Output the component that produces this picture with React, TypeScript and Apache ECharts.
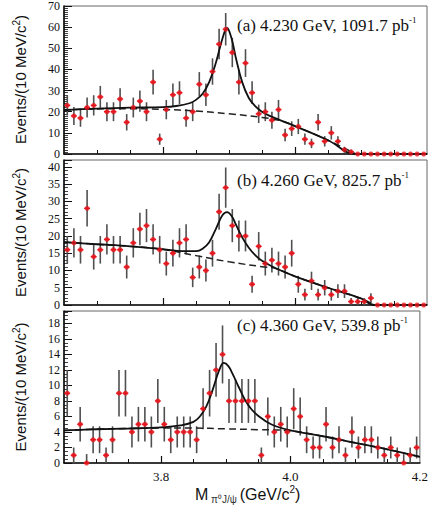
import React, { useEffect, useRef } from "react";
import * as echarts from "echarts";

// Histogram binning (10 MeV bins from 3.65 to 4.20 GeV/c^2)
const BIN_START = 3.65;
const BIN_WIDTH = 0.01;

const COUNTS_A = [23, 18, 17, 22, 23, 27, 20, 20, 26, 15, 22, 25, 20, 34, 7, 21, 28, 29, 17, 20, 33, 28, 39, 52, 59, 48, 34, 43, 29, 19, 20, 16, 21, 9, 12, 13, 7, 5, 15, 6, 10, 6, 2, 1, 0, 0, 0, 0, 0, 0, 0, 0, 0, 0, 0];
const COUNTS_B = [16, 18, 16, 28, 14, 16, 19, 16, 16, 11, 18, 22, 23, 19, 16, 12, 15, 18, 19, 8, 11, 10, 15, 27, 34, 23, 20, 20, 6, 17, 12, 13, 12, 11, 15, 6, 3, 7, 3, 5, 3, 4, 4, 1, 1, 1, 2, 0, 0, 0, 0, 0, 0, 0, 0];
const COUNTS_C = [9, 1, 5, 0, 3, 3, 1, 3, 9, 9, 4, 5, 5, 4, 8, 5, 3, 4, 4, 4, 3, 7, 9, 12, 14, 8, 8, 8, 8, 8, 1, 6, 4, 5, 4, 7, 6, 3, 2, 2, 5, 2, 3, 1, 4, 2, 3, 3, 2, 1, 2, 1, 0, 1, 2];
const ZERO_UPPER_ERR = [0, 0, 1.15];

// Fit curves (total = solid, background = dashed)
const FIT_A: number[][] = [[3.65, 20.8], [3.70, 21.5], [3.75, 21.9], [3.80, 22.2], [3.82, 22.7], [3.84, 24], [3.85, 25.6], [3.86, 28.5], [3.87, 34], [3.88, 43], [3.89, 54.5], [3.897, 59.6], [3.904, 54.5], [3.91, 46], [3.92, 34], [3.93, 26.5], [3.94, 22.5], [3.95, 20], [3.96, 18.3], [3.98, 15.7], [4.0, 13.2], [4.05, 6.5], [4.092, 0], [4.2, 0]];
const BKG_A: number[][] = [[3.65, 20.8], [3.70, 21.3], [3.75, 21.4], [3.80, 21.1], [3.85, 20.3], [3.90, 19.0], [3.95, 17.3], [3.98, 15.6], [4.0, 13.2], [4.05, 6.5], [4.092, 0]];
const FIT_B: number[][] = [[3.65, 18.2], [3.70, 17.6], [3.75, 17], [3.80, 16.2], [3.83, 15.6], [3.85, 15.6], [3.86, 16.3], [3.87, 18.2], [3.88, 22], [3.89, 26], [3.897, 26.9], [3.904, 25.8], [3.91, 23.5], [3.92, 19.6], [3.93, 16.6], [3.94, 14.4], [3.95, 12.8], [3.97, 10.7], [4.0, 8.3], [4.05, 5], [4.1, 1.9], [4.12, 0], [4.2, 0]];
const BKG_B: number[][] = [[3.65, 18.2], [3.70, 17.6], [3.75, 17], [3.80, 16.1], [3.85, 14.3], [3.90, 12.5], [3.95, 11.1], [3.97, 10.6], [4.0, 8.3], [4.05, 5], [4.1, 1.9], [4.12, 0]];
const FIT_C: number[][] = [[3.65, 4.2], [3.70, 4.35], [3.75, 4.45], [3.80, 4.6], [3.83, 4.85], [3.85, 5.3], [3.86, 6.0], [3.87, 7.3], [3.88, 9.5], [3.89, 12.0], [3.897, 12.9], [3.904, 12.5], [3.91, 11.6], [3.92, 9.8], [3.93, 8.1], [3.94, 6.9], [3.95, 6.1], [3.97, 5.0], [4.0, 4.2], [4.05, 3.45], [4.1, 2.6], [4.15, 1.75], [4.2, 0.8]];
const BKG_C: number[][] = [[3.65, 4.2], [3.70, 4.35], [3.75, 4.45], [3.80, 4.5], [3.85, 4.5], [3.90, 4.4], [3.95, 4.3], [4.0, 4.15], [4.05, 3.45], [4.1, 2.6], [4.15, 1.75], [4.2, 0.8]];

const LABELS = ["(a) 4.230 GeV, 1091.7 pb", "(b) 4.260 GeV, 825.7 pb", "(c) 4.360 GeV, 539.8 pb"];
const Y_MAX = [70, 42, 19.6];
const Y_INTERVAL = [10, 5, 2];
const Y_MINOR = [10, 5, 4];
const X_MINOR_TICKS = [3.7, 3.75, 3.85, 3.9, 3.95, 4.05, 4.1, 4.15];
const X_MAJOR_TICKS = [3.8, 4.0];
const X_LABELS = [3.8, 4.0, 4.2];

const GRIDS = [
  { top: 5, height: 149 },
  { top: 160, height: 145 },
  { top: 311, height: 152 },
];

const SERIF = "Liberation Serif";
const SANS = "Liberation Sans";

function histData(counts: number[], zeroErr: number) {
  return counts.map((n, i) => {
    const x = BIN_START + BIN_WIDTH * (i + 0.5);
    const e = n > 0 ? Math.sqrt(n) : 0;
    const hi = n > 0 ? e : zeroErr;
    return [x, n, e, hi];
  });
}

export default function App() {
  const ref = useRef<HTMLDivElement>(null);
  useEffect(() => {
    if (!ref.current) return;
    const chart = echarts.init(ref.current, undefined, { renderer: "svg" });
    const counts = [COUNTS_A, COUNTS_B, COUNTS_C];
    const fits = [FIT_A, FIT_B, FIT_C];
    const bkgs = [BKG_A, BKG_B, BKG_C];

    const grid: any[] = [];
    const xAxis: any[] = [];
    const yAxis: any[] = [];
    const series: any[] = [];
    const graphic: any[] = [];

    for (let k = 0; k < 3; k++) {
      grid.push({
        left: 64,
        width: 363,
        top: GRIDS[k].top,
        height: GRIDS[k].height,
        show: true,
        borderColor: "#666",
        borderWidth: 1,
        backgroundColor: "transparent",
      });
      xAxis.push({
        type: "value",
        gridIndex: k,
        min: 3.65,
        max: 4.2,
        position: "bottom",
        axisLine: { show: true, onZero: false, lineStyle: { color: "#111", width: 1.6 } },
        axisTick: { show: true, inside: true, length: 4, customValues: X_MINOR_TICKS, lineStyle: { color: "#111", width: 1 } },
        axisLabel: { show: false },
        splitLine: { show: false },
      });
      xAxis.push({
        type: "value",
        gridIndex: k,
        min: 3.65,
        max: 4.2,
        position: "bottom",
        axisLine: { show: false, onZero: false },
        axisTick: { show: true, inside: true, length: 7, customValues: X_MAJOR_TICKS, lineStyle: { color: "#111", width: 1.2 } },
        axisLabel:
          k === 2
            ? {
                show: true,
                customValues: X_LABELS,
                formatter: (v: number) => v.toFixed(1),
                fontFamily: SERIF,
                fontSize: 13,
                color: "#111",
                margin: 7,
              }
            : { show: false },
        splitLine: { show: false },
      });
      yAxis.push({
        type: "value",
        gridIndex: k,
        min: 0,
        max: Y_MAX[k],
        interval: Y_INTERVAL[k],
        axisLine: { show: true, onZero: false, lineStyle: { color: "#111", width: 1.6 } },
        axisTick: { show: true, inside: true, length: 8, lineStyle: { color: "#111", width: 1 } },
        minorTick: { show: true, splitNumber: Y_MINOR[k], length: 4, lineStyle: { color: "#111", width: 0.8 } },
        axisLabel: {
          fontFamily: SERIF,
          fontSize: 12,
          lineHeight: 11,
          color: "#111",
          margin: 4,
          showMaxLabel: k === 0,
        },
        splitLine: { show: false },
      });

      const data = histData(counts[k], ZERO_UPPER_ERR[k]);
      series.push({
        type: "custom",
        xAxisIndex: 2 * k,
        yAxisIndex: k,
        z: 1,
        data,
        encode: { x: 0, y: 1 },
        renderItem: (params: any, api: any) => {
          const x = api.value(0);
          const y = api.value(1);
          const lo = api.value(2);
          const hi = api.value(3);
          const p1 = api.coord([x, y - lo]);
          const p2 = api.coord([x, y + hi]);
          const h1 = api.coord([x - BIN_WIDTH * 0.45, y]);
          const h2 = api.coord([x + BIN_WIDTH * 0.45, y]);
          return {
            type: "group",
            children: [
              {
                type: "line",
                shape: { x1: p1[0], y1: p1[1], x2: p2[0], y2: p2[1] },
                style: { stroke: "#505050", lineWidth: 1.6 },
              },
              {
                type: "line",
                shape: { x1: h1[0], y1: h1[1], x2: h2[0], y2: h2[1] },
                style: { stroke: "#e8141c", lineWidth: 1.4 },
              },
            ],
          };
        },
      });
      series.push({
        type: "line",
        xAxisIndex: 2 * k,
        yAxisIndex: k,
        data: bkgs[k],
        showSymbol: false,
        smooth: 0.4,
        z: 2,
        lineStyle: { color: "#222", width: 1.5, type: [7, 4] },
      });
      series.push({
        type: "line",
        xAxisIndex: 2 * k,
        yAxisIndex: k,
        data: fits[k],
        showSymbol: false,
        smooth: 0.4,
        z: 3,
        lineStyle: { color: "#111", width: 1.8, type: "solid" },
      });
      series.push({
        type: "scatter",
        xAxisIndex: 2 * k,
        yAxisIndex: k,
        data: data.map((d) => [d[0], d[1]]),
        symbol: "circle",
        symbolSize: 5,
        z: 4,
        itemStyle: { color: "#e8141c" },
      });

      const labelY = [25, 180, 325][k];
      graphic.push({
        type: "text",
        x: 237,
        y: labelY,
        style: {
          text: `{m|${LABELS[k]}}{s|-1}`,
          verticalAlign: "middle",
          rich: {
            m: { fontFamily: SERIF, fontSize: 17, fill: "#111", lineHeight: 20 },
            s: { fontFamily: SERIF, fontSize: 9, fill: "#111", lineHeight: 12, verticalAlign: "top" },
          },
        },
      });
      graphic.push({
        type: "text",
        x: 20,
        y: GRIDS[k].top + GRIDS[k].height / 2,
        rotation: Math.PI / 2,
        style: {
          text: "{t|Events/(10 MeV/c}{s|2}{t|)}",
          align: "center",
          verticalAlign: "middle",
          rich: {
            t: { fontFamily: SANS, fontSize: 15, fill: "#111", lineHeight: 18 },
            s: { fontFamily: SANS, fontSize: 10, fill: "#111", lineHeight: 12, verticalAlign: "top" },
          },
        },
      });
    }

    graphic.push({
      type: "text",
      x: 195,
      y: 494,
      style: {
        text: "{t|M}{s| π⁰J/ψ }{t|(GeV/c}{p|2}{t|)}",
        verticalAlign: "middle",
        rich: {
          t: { fontFamily: SANS, fontSize: 16, fill: "#111", lineHeight: 20 },
          s: { fontFamily: SANS, fontSize: 10, fill: "#333", lineHeight: 12, verticalAlign: "bottom" },
          p: { fontFamily: SANS, fontSize: 10, fill: "#111", lineHeight: 12, verticalAlign: "top" },
        },
      },
    });

    chart.setOption({
      animation: false,
      grid,
      xAxis,
      yAxis,
      series,
      graphic,
    });
    return () => chart.dispose();
  }, []);

  return (
    <div
      ref={ref}
      style={{ position: "fixed", left: 0, top: 0, width: 431, height: 510, background: "#fff" }}
    />
  );
}
